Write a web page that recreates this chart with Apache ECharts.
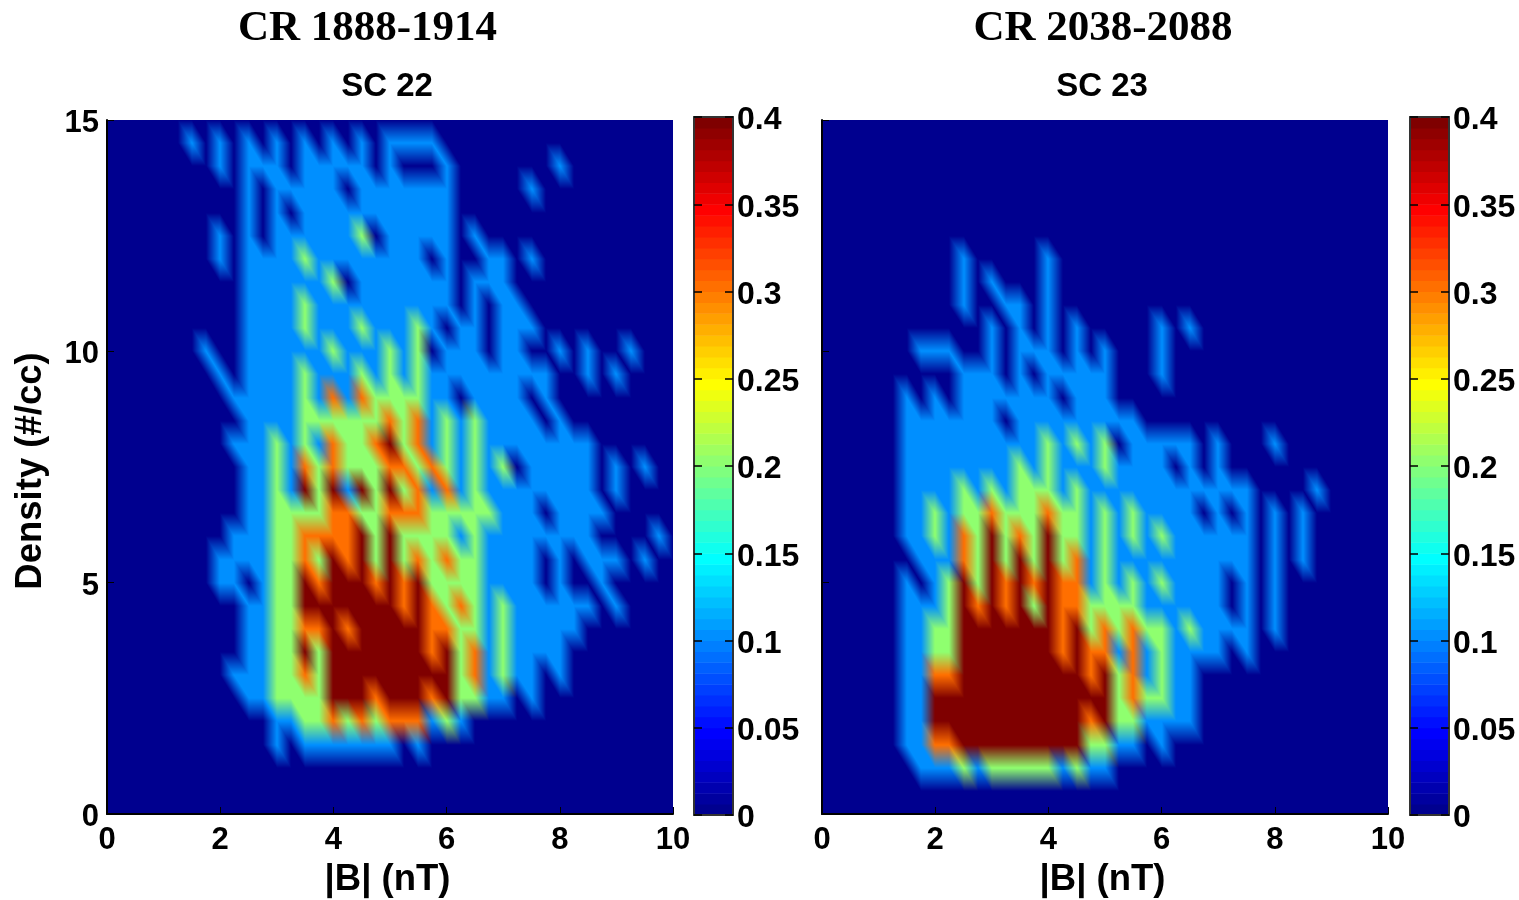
<!DOCTYPE html>
<html>
<head>
<meta charset="utf-8">
<title>CR 1888-1914 / CR 2038-2088</title>
<script src="https://cdn.jsdelivr.net/npm/echarts@6/dist/echarts.min.js"></script>
<style>
  html, body { margin: 0; background: #fff; }
  #chart { width: 1519px; height: 900px; }
</style>
</head>
<body>
<div id="chart"></div>
<script>
// one digit per grid node, top row is density 15, bottom row is density 0
// columns go from |B| = 0 to 10 in steps of 0.25, rows step by 0.5
var levelValues = [0, 0.1, 0.2, 0.3, 0.4]

var sc22Rows = [
  '00000000000000000000000000000000000000000',
  '00000010101010101010111100000000000000000',
  '00000000101110111110100010000000100000000',
  '00000000001011111011111110000010000000000',
  '00000000001010111111111110000000000000000',
  '00000000101011111120111110100000000000000',
  '00000000101111211111111010011010000000000',
  '00000000001111112011111110111000000000000',
  '00000000001111211111111110101100000000000',
  '00000000001111211121112101101110000000000',
  '00000001001111112111212011101100101001000',
  '00000000101111211121212111111111001010000',
  '00000000011111213132222110111101000000000',
  '00000000001111222222323121211110100000000',
  '00000000011121213223423121211111111000000',
  '00000000001121323222332321212011111010100',
  '00000000001121424142423131211111111010000',
  '00000000001122223322333222221110111100000',
  '00000000011122333342422221211111111000010',
  '00000000111122324342423232211110101110100',
  '00000000110122434443434222211110100100000',
  '00000000001122444444434323212111111010000',
  '00000000001122334344444332212111110000000',
  '00000000001122424444444342312111100000000',
  '00000000011122324444444442312110100000000',
  '00000000001122224443444342211010000000000',
  '00000000000011223232333121000000000000000',
  '00000000000010111111101000000000000000000',
  '00000000000000000000000000000000000000000',
  '00000000000000000000000000000000000000000',
  '00000000000000000000000000000000000000000'
]

var sc23Rows = [
  '00000000000000000000000000000000000000000',
  '00000000000000000000000000000000000000000',
  '00000000000000000000000000000000000000000',
  '00000000000000000000000000000000000000000',
  '00000000000000000000000000000000000000000',
  '00000000000000000000000000000000000000000',
  '00000000001000001000000000000000000000000',
  '00000000001010001000000000000000000000000',
  '00000000001001101000000000000000000000000',
  '00000000000010101010000010100000000000000',
  '00000001110010111010100010000000000000000',
  '00000000001110101111100010000000000000000',
  '00000010101111111011100000000000000000000',
  '00000011111110111111111000000000000000000',
  '00000011111111112121201111101000100000000',
  '00000011111111212111211110101000000000000',
  '00000011112121222121111111111110000100000',
  '00000011212232223221212111101010101000000',
  '00000011213242324221212121111110101000000',
  '00000001113242424231211111111110101000000',
  '00000010124243434331212121111010100000000',
  '00000011124343424332222111111010100000000',
  '00000011224444444342323221211110100000000',
  '00000011224444444343313121111010000000000',
  '00000011334444444443423121100000000000000',
  '00000011444444444444423221100000000000000',
  '00000011444444444443422111100000000000000',
  '00000011334444444442211010000000000000000',
  '00000001112122222121100000000000000000000',
  '00000000000000000000000000000000000000000',
  '00000000000000000000000000000000000000000'
]

var xTicksMax = 10
var yTicksMax = 15
var colorbarMax = 0.4

// matlab jet, 64 steps
var jet64 = [
  '00008F','00009F','0000AF','0000BF','0000CF','0000DF','0000EF','0000FF',
  '000FFF','001FFF','002FFF','003FFF','004FFF','005FFF','006FFF','007FFF',
  '008FFF','009FFF','00AFFF','00BFFF','00CFFF','00DFFF','00EFFF','00FFFF',
  '0FFFEF','1FFFDF','2FFFCF','3FFFBF','4FFFAF','5FFF9F','6FFF8F','7FFF7F',
  '8FFF6F','9FFF5F','AFFF4F','BFFF3F','CFFF2F','DFFF1F','EFFF0F','FFFF00',
  'FFEF00','FFDF00','FFCF00','FFBF00','FFAF00','FF9F00','FF8F00','FF7F00',
  'FF6F00','FF5F00','FF4F00','FF3F00','FF2F00','FF1F00','FF0F00','FF0000',
  'EF0000','DF0000','CF0000','BF0000','AF0000','9F0000','8F0000','7F0000'
]

function jetRgb(v) {
  var k = Math.min(63, Math.floor(v / colorbarMax * 64 + 1e-9))
  var hex = jet64[k]
  return [parseInt(hex.slice(0, 2), 16), parseInt(hex.slice(2, 4), 16), parseInt(hex.slice(4, 6), 16)]
}

// a cell is [x, y, lowerLeft, lowerRight, upperLeft, upperRight]
function buildCells(rows) {
  var cells = []
  var nRows = rows.length
  function val(i, j) {
    return levelValues[+rows[nRows - 1 - j].charAt(i)]
  }
  for (var j = 0; j < nRows - 1; j++) {
    for (var i = 0; i < rows[0].length - 1; i++) {
      cells.push([i * 0.25, j * 0.5, val(i, j), val(i + 1, j), val(i, j + 1), val(i + 1, j + 1)])
    }
  }
  return cells
}

// same look as shading interp: each cell is split along the \ diagonal and
// the node colours are blended over the two triangles
var tileCache = {}
function cellTile(w, h, ll, lr, ul, ur) {
  var key = [w, h, ll, lr, ul, ur].join('_')
  if (tileCache[key]) return tileCache[key]
  var canvas = document.createElement('canvas')
  canvas.width = w
  canvas.height = h
  var ctx = canvas.getContext('2d')
  var img = ctx.createImageData(w, h)
  var TL = jetRgb(ul), TR = jetRgb(ur), BL = jetRgb(ll), BR = jetRgb(lr)
  for (var py = 0; py < h; py++) {
    for (var px = 0; px < w; px++) {
      var u = (px + 0.5) / w
      var v = (py + 0.5) / h
      var n = (py * w + px) * 4
      for (var c = 0; c < 3; c++) {
        img.data[n + c] = u > v
          ? TL[c] * (1 - u) + TR[c] * (u - v) + BR[c] * v
          : TL[c] * (1 - v) + BL[c] * (v - u) + BR[c] * u
      }
      img.data[n + 3] = 255
    }
  }
  ctx.putImageData(img, 0, 0)
  tileCache[key] = canvas
  return canvas
}

function renderCell(params, api) {
  var x = api.value(0)
  var y = api.value(1)
  var p0 = api.coord([x, y + 0.5])
  var p1 = api.coord([x + 0.25, y])
  var left = Math.round(p0[0])
  var top = Math.round(p0[1])
  var w = Math.round(p1[0]) - left
  var h = Math.round(p1[1]) - top
  return {
    type: 'image',
    silent: true,
    style: {
      image: cellTile(w, h, api.value(2), api.value(3), api.value(4), api.value(5)),
      x: left,
      y: top,
      width: w,
      height: h
    }
  }
}

function renderBand(params, api) {
  var k = api.value(0)
  var p0 = api.coord([0, (k + 1) / 64 * colorbarMax])
  var p1 = api.coord([1, k / 64 * colorbarMax])
  return {
    type: 'rect',
    silent: true,
    shape: { x: p0[0], y: p0[1], width: p1[0] - p0[0], height: p1[1] - p0[1] + 0.5 },
    style: { fill: '#' + jet64[k] }
  }
}

var FONT = '"Liberation Sans", Arial, sans-serif'
var SERIF = '"Liberation Serif", serif'
var tickText = { color: '#000', fontFamily: FONT, fontWeight: 'bold', fontSize: 31 }

// the matlab tick labels sit a few pixels below their ticks
function loweredLabel(v) {
  return '{t|' + v + '}'
}
function loweredRich(fontSize) {
  return { t: { color: '#000', fontFamily: FONT, fontWeight: 'bold', fontSize: fontSize, padding: [7, 0, 0, 0] } }
}

function plotAxes(gridIndex, showYLabels) {
  return {
    x: {
      gridIndex: gridIndex,
      z: 5,
      type: 'value',
      min: 0,
      max: xTicksMax,
      interval: 2,
      name: '|B| (nT)',
      nameLocation: 'middle',
      nameGap: 47,
      nameTextStyle: { color: '#000', fontFamily: FONT, fontWeight: 'bold', fontSize: 36.5, padding: [0, 5, 0, 0] },
      axisLine: { show: true, lineStyle: { color: '#000', width: 2 } },
      axisTick: { inside: true, length: 7, lineStyle: { color: '#000' } },
      axisLabel: Object.assign({ margin: 11, showMinLabel: true, showMaxLabel: true }, tickText),
      splitLine: { show: false }
    },
    y: {
      gridIndex: gridIndex,
      z: 5,
      type: 'value',
      min: 0,
      max: yTicksMax,
      interval: 5,
      name: showYLabels ? 'Density (#/cc)' : '',
      nameLocation: 'middle',
      nameGap: 58,
      nameTextStyle: { color: '#000', fontFamily: FONT, fontWeight: 'bold', fontSize: 36.5, padding: [0, 8, 0, 0] },
      axisLine: { show: true, lineStyle: { color: '#000', width: 2 } },
      axisTick: { inside: true, length: 7, lineStyle: { color: '#000' } },
      axisLabel: { show: showYLabels, margin: 8, formatter: loweredLabel, rich: loweredRich(31), showMinLabel: true, showMaxLabel: true },
      splitLine: { show: false }
    }
  }
}

// four axes make the box round the colour bar, ticks on both long sides
function colorbarAxes(gridIndex) {
  var line = { show: true, onZero: false, lineStyle: { color: '#333', width: 2 } }
  var tick = { show: true, inside: true, length: 8, lineStyle: { color: '#000', width: 1.5 } }
  function boxX(position) {
    return { gridIndex: gridIndex, z: 5, type: 'value', position: position, min: 0, max: 1, axisLine: line, axisTick: { show: false }, axisLabel: { show: false }, splitLine: { show: false } }
  }
  return {
    x: [boxX('bottom'), boxX('top')],
    y: [
      {
        gridIndex: gridIndex, z: 5, type: 'value', position: 'right', min: 0, max: colorbarMax, interval: 0.05,
        axisLine: line, axisTick: tick, splitLine: { show: false },
        axisLabel: { margin: 4, formatter: loweredLabel, rich: loweredRich(32), showMinLabel: true, showMaxLabel: true }
      },
      {
        gridIndex: gridIndex, z: 5, type: 'value', position: 'left', min: 0, max: colorbarMax, interval: 0.05,
        axisLine: line, axisTick: tick, axisLabel: { show: false }, splitLine: { show: false }
      }
    ]
  }
}

var left1 = plotAxes(0, true)
var left2 = plotAxes(1, false)
var bar1 = colorbarAxes(2)
var bar2 = colorbarAxes(3)

var bandData = jet64.map(function (c, k) { return [k] })

var option = {
  animation: false,
  backgroundColor: '#fff',
  title: [
    { text: 'CR 1888-1914', left: 367.5, top: 7, padding: 0, textAlign: 'center', textStyle: { color: '#000', fontFamily: SERIF, fontWeight: 'bold', fontSize: 43 } },
    { text: 'CR 2038-2088', left: 1103, top: 7, padding: 0, textAlign: 'center', textStyle: { color: '#000', fontFamily: SERIF, fontWeight: 'bold', fontSize: 43 } },
    { text: 'SC 22', left: 387, top: 70, padding: 0, textAlign: 'center', textStyle: { color: '#000', fontFamily: FONT, fontWeight: 'bold', fontSize: 33 } },
    { text: 'SC 23', left: 1102, top: 70, padding: 0, textAlign: 'center', textStyle: { color: '#000', fontFamily: FONT, fontWeight: 'bold', fontSize: 33 } }
  ],
  grid: [
    { left: 107, top: 120, width: 566, height: 694, outerBoundsMode: 'none' },
    { left: 822, top: 120, width: 566, height: 694, outerBoundsMode: 'none' },
    { left: 694, top: 117, width: 39, height: 698, outerBoundsMode: 'none' },
    { left: 1410, top: 117, width: 39, height: 698, outerBoundsMode: 'none' }
  ],
  xAxis: [left1.x, left2.x, bar1.x[0], bar2.x[0], bar1.x[1], bar2.x[1]],
  yAxis: [left1.y, left2.y, bar1.y[0], bar1.y[1], bar2.y[0], bar2.y[1]],
  series: [
    { type: 'custom', xAxisIndex: 0, yAxisIndex: 0, renderItem: renderCell, data: buildCells(sc22Rows), progressive: 0, silent: true, encode: { x: 0, y: 1 } },
    { type: 'custom', xAxisIndex: 1, yAxisIndex: 1, renderItem: renderCell, data: buildCells(sc23Rows), progressive: 0, silent: true, encode: { x: 0, y: 1 } },
    { type: 'custom', xAxisIndex: 2, yAxisIndex: 2, renderItem: renderBand, data: bandData, progressive: 0, silent: true, z: 1 },
    { type: 'custom', xAxisIndex: 3, yAxisIndex: 4, renderItem: renderBand, data: bandData, progressive: 0, silent: true, z: 1 }
  ]
}

var chart = echarts.init(document.getElementById('chart'), null, { renderer: 'canvas' })
chart.setOption(option)
</script>
</body>
</html>
